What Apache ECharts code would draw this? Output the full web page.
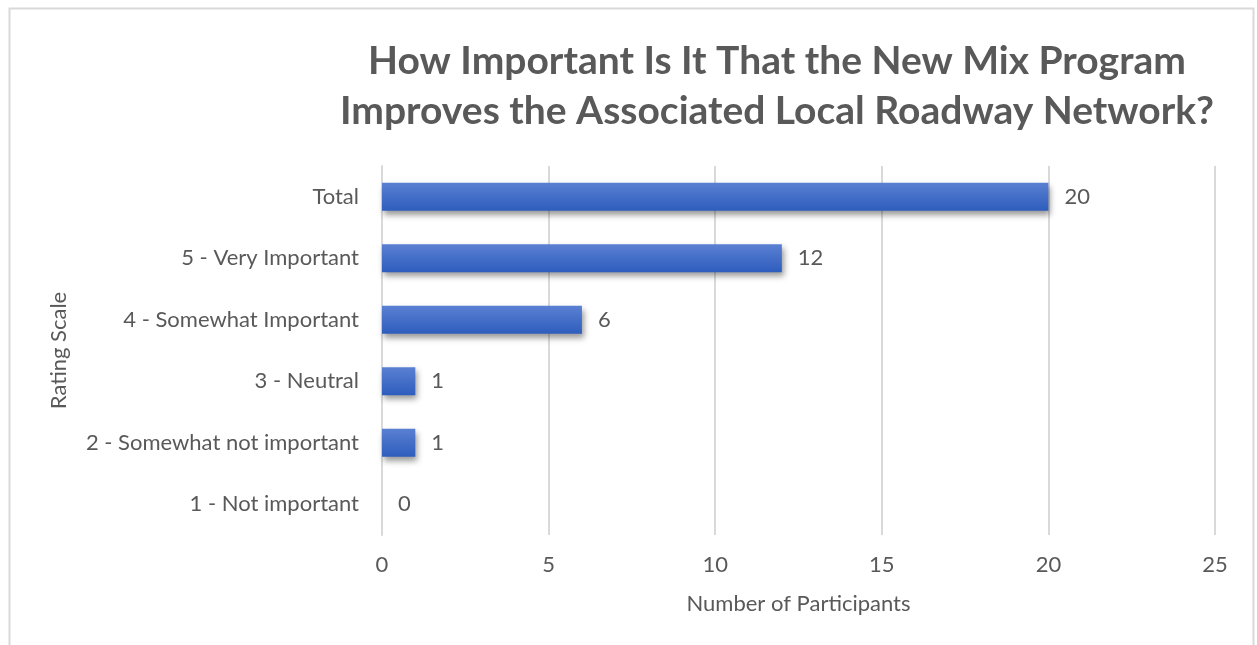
<!DOCTYPE html>
<html>
<head>
<meta charset="utf-8">
<script src="https://cdn.jsdelivr.net/npm/echarts@6/dist/echarts.min.js"></script>
<style>
  html, body { margin: 0; padding: 0; background: #fff; }
  #chart { width: 1257px; height: 645px; }
</style>
</head>
<body>
<div id="chart"></div>
<script>
// Survey responses, listed bottom-to-top as they appear on the category axis
const categories = ['1 - Not important', '2 - Somewhat not important', '3 - Neutral', '4 - Somewhat Important', '5 - Very Important', 'Total'];
const participants = [0, 1, 1, 6, 12, 20];
const xTicks = [0, 5, 10, 15, 20, 25];

const FONT = 'Lato';
const TEXT = '#595959';

const chart = echarts.init(document.getElementById('chart'));
chart.setOption({
  backgroundColor: '#ffffff',
  graphic: [{
    type: 'rect',
    shape: { x: 9.5, y: 8.5, width: 1244, height: 660 },
    style: { fill: 'none', stroke: '#d9d9d9', lineWidth: 2 },
    silent: true
  }],
  title: {
    text: 'How Important Is It That the New Mix Program\nImproves the Associated Local Roadway Network?',
    left: 772, top: 31, textAlign: 'center',
    textStyle: { fontFamily: FONT, fontWeight: 'bold', fontSize: 39, color: TEXT, lineHeight: 50 }
  },
  grid: { left: 382, right: 42, top: 166, bottom: 110, containLabel: false },
  xAxis: {
    type: 'value', min: xTicks[0], max: xTicks[xTicks.length - 1], interval: 5,
    name: 'Number of Participants', nameLocation: 'middle', nameGap: 58,
    nameTextStyle: { fontFamily: FONT, fontSize: 22, color: TEXT },
    axisLine: { show: false }, axisTick: { show: false },
    axisLabel: { fontFamily: FONT, fontSize: 22, color: TEXT, margin: 19 },
    splitLine: { show: true, lineStyle: { color: '#d9d9d9', width: 2 } }
  },
  yAxis: {
    type: 'category', data: categories,
    name: 'Rating Scale', nameLocation: 'middle', nameGap: 312, nameRotate: 90,
    nameTextStyle: { fontFamily: FONT, fontSize: 22, color: TEXT },
    axisLine: { show: true, lineStyle: { color: '#d9d9d9', width: 2 } },
    axisTick: { show: false },
    axisLabel: { fontFamily: FONT, fontSize: 22, color: TEXT, margin: 23 }
  },
  series: [{
    type: 'bar', data: participants, barWidth: 28,
    itemStyle: {
      color: new echarts.graphic.LinearGradient(0, 0, 0, 1, [
        { offset: 0, color: '#5a80d2' },
        { offset: 1, color: '#2e5dbd' }
      ]),
      shadowColor: 'rgba(0,0,0,0.4)', shadowBlur: 6, shadowOffsetX: 2, shadowOffsetY: 4
    },
    label: {
      show: true, position: 'right', distance: 16,
      fontFamily: FONT, fontSize: 22, color: TEXT
    }
  }]
});
</script>
</body>
</html>
